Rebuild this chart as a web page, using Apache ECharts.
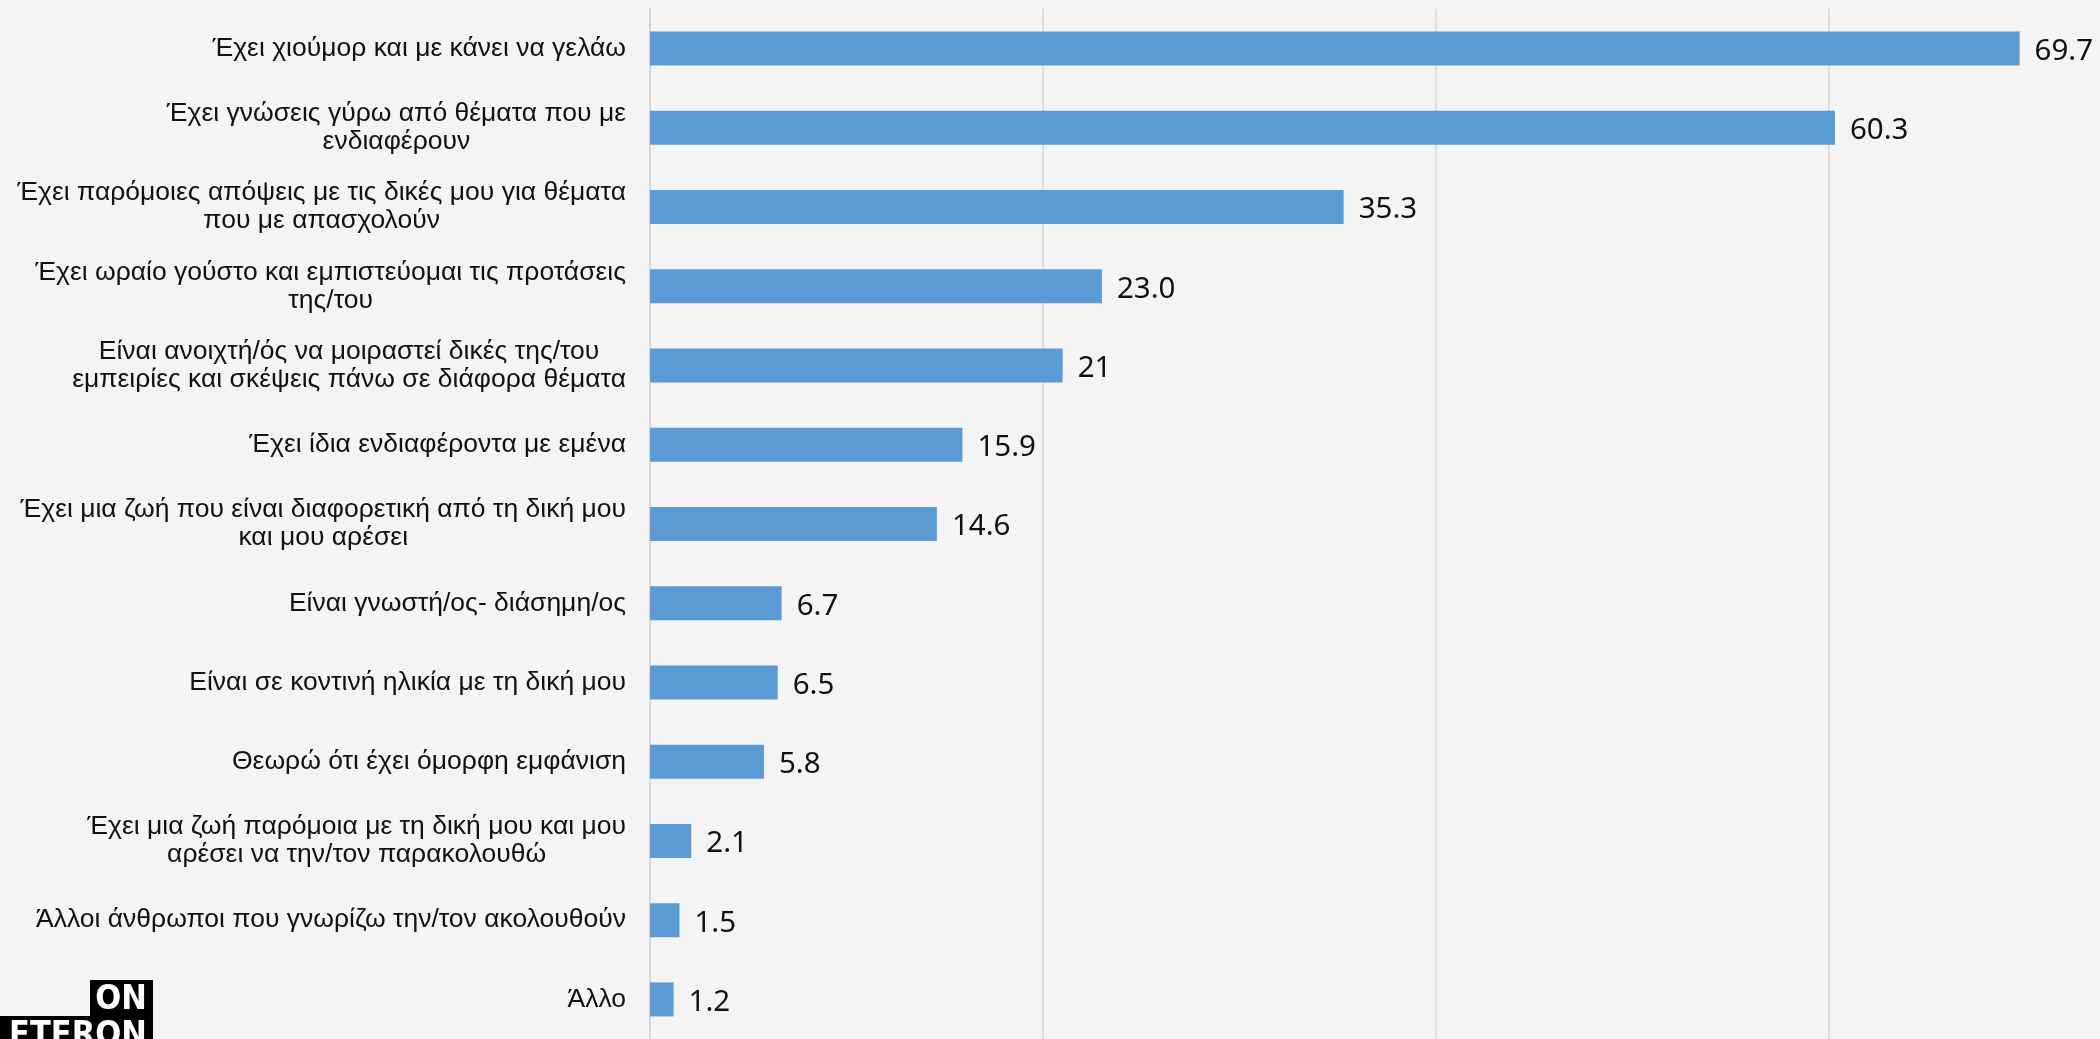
<!DOCTYPE html>
<html>
<head>
<meta charset="utf-8">
<script src="https://cdn.jsdelivr.net/npm/echarts@6/dist/echarts.min.js"></script>
<style>
html,body{margin:0;padding:0;background:#F4F4F4;overflow:hidden;width:2100px;height:1039px;}
#chart{width:2222px;height:1039px;}
</style>
</head>
<body>
<div id="chart"></div>
<script>
const categories = [
  'Έχει χιούμορ και με κάνει να γελάω',
  'Έχει γνώσεις γύρω από θέματα που με\nενδιαφέρουν',
  'Έχει παρόμοιες απόψεις με τις δικές μου για θέματα\nπου με απασχολούν',
  'Έχει ωραίο γούστο και εμπιστεύομαι τις προτάσεις\nτης/του',
  'Είναι ανοιχτή/ός να μοιραστεί δικές της/του\nεμπειρίες και σκέψεις πάνω σε διάφορα θέματα',
  'Έχει ίδια ενδιαφέροντα με εμένα',
  'Έχει μια ζωή που είναι διαφορετική από τη δική μου\nκαι μου αρέσει',
  'Είναι γνωστή/ος- διάσημη/ος',
  'Είναι σε κοντινή ηλικία με τη δική μου',
  'Θεωρώ ότι έχει όμορφη εμφάνιση',
  'Έχει μια ζωή παρόμοια με τη δική μου και μου\nαρέσει να την/τον παρακολουθώ',
  'Άλλοι άνθρωποι που γνωρίζω την/τον ακολουθούν',
  'Άλλο'
];
const values = [69.7, 60.3, 35.3, 23.0, 21, 15.9, 14.6, 6.7, 6.5, 5.8, 2.1, 1.5, 1.2];
const valueLabels = ['69.7', '60.3', '35.3', '23.0', '21', '15.9', '14.6', '6.7', '6.5', '5.8', '2.1', '1.5', '1.2'];
const logoTop = 'ON';
const logoBottom = 'ETERON';

const chart = echarts.init(document.getElementById('chart'));
chart.setOption({
  backgroundColor: '#F4F4F4',
  animation: false,
  grid: { left: 650, right: 0, top: 9, bottom: -7, containLabel: false },
  xAxis: {
    type: 'value', min: 0, max: 80, interval: 20,
    axisLabel: { show: false }, axisTick: { show: false }, axisLine: { show: false },
    splitLine: { show: true, lineStyle: { color: '#D9D9D9', width: 1.5 } }
  },
  yAxis: {
    type: 'category', inverse: true, data: categories,
    axisTick: { show: false },
    axisLine: { show: true, lineStyle: { color: '#D9D9D9', width: 2 } },
    axisLabel: {
      margin: 24, align: 'right',
      fontFamily: 'Liberation Sans', fontSize: 26.5, color: '#111', lineHeight: 28,
      formatter: v => v.split('\n').map(l => '{c|' + l + '}').join('\n'),
      rich: { c: { align: 'center', fontFamily: 'Liberation Sans', fontSize: 26.5, color: '#111', lineHeight: 28 } }
    }
  },
  series: [{
    type: 'bar', data: values, barWidth: 34,
    itemStyle: { color: '#5B9BD5' },
    label: {
      show: true, position: 'right', distance: 15, offset: [0, 3],
      fontFamily: 'Noto Sans', fontSize: 29.5, color: '#111',
      formatter: p => valueLabels[p.dataIndex]
    }
  }],
  graphic: [
    { type: 'rect', shape: { x: 90, y: 980, width: 63, height: 40 }, style: { fill: '#000' } },
    { type: 'rect', shape: { x: 0, y: 1016, width: 153, height: 30 }, style: { fill: '#000' } },
    { type: 'text', x: 121, y: 1000, style: { text: logoTop, fill: '#fff', font: 'bold 34px "DejaVu Sans Condensed"', align: 'center', verticalAlign: 'middle' } },
    { type: 'text', x: 78, y: 1036, style: { text: logoBottom, fill: '#fff', font: 'bold 34px "DejaVu Sans Condensed"', align: 'center', verticalAlign: 'middle' } }
  ]
});
</script>
</body>
</html>
